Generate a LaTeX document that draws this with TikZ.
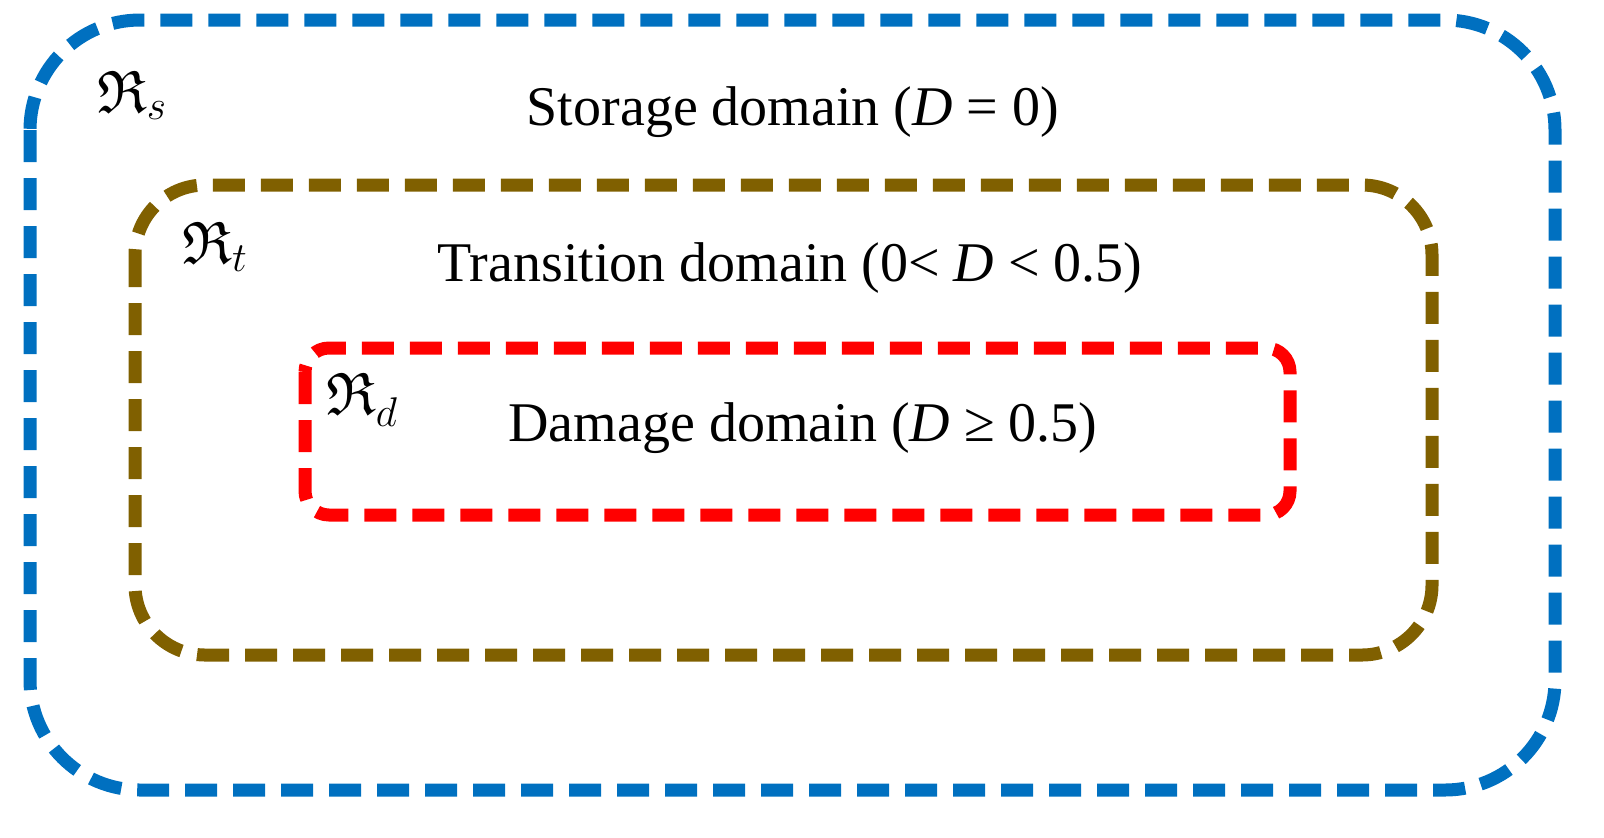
\documentclass[tikz,border=0pt]{standalone}
\usepackage{amssymb}
\usepackage{fontspec}
\setmainfont{Liberation Serif}
\begin{document}
\begin{tikzpicture}[x=0.5pt,y=-0.5pt,
  box/.style={line width=6.5pt,dash pattern=on 16pt off 8pt},
  lab/.style={font=\fontsize{28}{32}\selectfont},
  rlab/.style={font=\fontsize{30}{32}\selectfont}]
\useasboundingbox (0,0) rectangle (1604,837);
\draw[box,draw={rgb,255:red,0;green,112;blue,192},rounded corners=55pt] (30,20) rectangle (1555,790);
\draw[box,draw={rgb,255:red,128;green,96;blue,0},rounded corners=35pt] (135,185) rectangle (1432,655);
\draw[box,draw=red,rounded corners=12pt] (305,348) rectangle (1290,515);
\node[lab] (s) at (793,112) {Storage domain (\textit{D} = 0)};
\node[lab] (t) at (790,268) {Transition domain (0< \textit{D} < 0.5)};
\node[lab] (d) at (803,428) {Damage domain (\textit{D} ≥ 0.5)};
\node[rlab] (rs) at (132,95) {$\mathfrak{R}_s$};
\node[rlab] (rt) at (215,247) {$\mathfrak{R}_t$};
\node[rlab] (rd) at (362,400) {$\mathfrak{R}_d$};
\end{tikzpicture}
\end{document}
